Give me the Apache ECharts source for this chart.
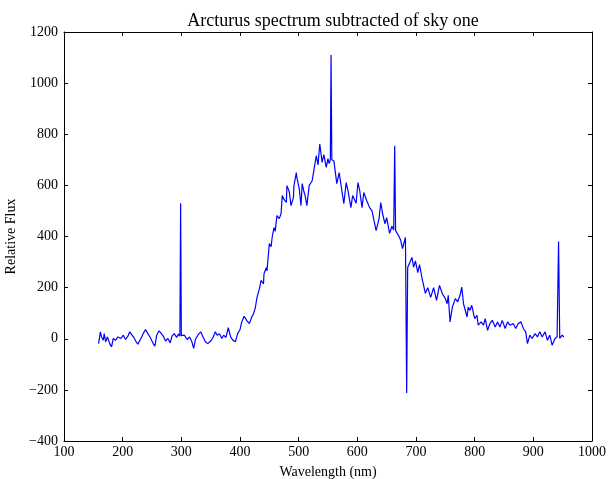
<!DOCTYPE html>
<html>
<head>
<meta charset="utf-8">
<script src="https://cdn.jsdelivr.net/npm/echarts@6/dist/echarts.min.js"></script>
<style>
  html, body { margin: 0; padding: 0; background: #fff; }
  #chart { width: 608px; height: 479px; }
</style>
</head>
<body>
<div id="chart"></div>
<script>
// wavelength (nm)
const wavelength = [
  159, 162, 164, 167, 168.5, 171, 174, 178, 181, 184, 188, 192, 197, 201, 205, 209, 212, 216, 219, 223,
  226, 231, 235, 239, 243, 247, 252, 255, 258, 262, 266, 270, 273, 277, 281, 284, 288, 292, 295, 297.5,
  298.8, 300, 301, 305, 310, 314, 318, 321, 324, 328, 333, 337, 341, 345, 350, 354, 358, 361, 365, 369,
  372, 376, 380, 384, 388, 392, 396, 400, 403, 407, 412, 416, 420, 423, 426, 429, 433, 436, 440, 441,
  445, 446, 450, 453, 455, 458, 460, 463, 467, 470, 472, 475, 479, 480, 484, 487, 491, 492, 496, 497,
  501, 504, 506, 509, 511, 514, 518, 523, 526, 530, 533, 536, 540, 543, 547, 550, 552, 554, 555.2, 556.5,
  560, 565, 569, 572, 577, 581, 584, 589, 592, 598, 601, 604, 608, 611, 616, 621, 625, 628, 632, 637,
  640, 643, 647, 650, 655, 659, 662, 663.7, 665.2, 667, 671, 674, 677, 682, 684.1, 685.8, 688, 693, 696, 699,
  703, 706, 711, 716, 720, 725, 730, 735, 740, 745, 750, 753, 755, 758, 762, 767, 771, 775, 778, 781,
  787, 789, 792, 795, 800, 804, 806, 811, 815, 818, 822, 826, 830, 835, 839, 843, 847, 852, 856, 860,
  866, 870, 874, 879, 883, 887, 890, 894, 898, 903, 907, 911, 915, 920, 924, 928, 932, 937, 940.5, 943,
  945, 949, 952
];

// relative flux at each wavelength
const flux = [
  -19, 27, 7, -6, 20, -12, 7, -19, -32, 1, -6, 7, 1, 14, -3, 10, 27, 14, 5, -12,
  -21, 1, 20, 36, 20, 5, -19, -29, 14, 31, 20, 7, -9, 1, -16, 10, 20, 5, 18, 10,
  530, 12, 10, 14, -3, 7, -12, -38, -3, 14, 27, 7, -12, -19, -9, 5, 27, 14, 20, 1,
  14, 5, 43, 7, -6, -12, 20, 36, 66, 88, 70, 59, 85, 98, 120, 162, 195, 228, 215, 255,
  279, 265, 372, 360, 400, 435, 420, 482, 470, 490, 560, 545, 533, 599, 575, 521, 552, 600, 650, 630,
  587, 521, 607, 575, 560, 521, 600, 618, 660, 716, 680, 762, 690, 720, 670, 705, 685, 700, 1110, 700,
  696, 607, 650, 657, 528, 611, 580, 513, 560, 530, 611, 580, 513, 572, 540, 513, 500, 494, 423, 470,
  533, 490, 450, 474, 412, 440, 425, 755, 423, 423, 400, 385, 353, 396, -212, 279, 279, 318, 280, 305,
  259, 290, 228, 178, 200, 162, 200, 150, 209, 176, 157, 137, 170, 66, 124, 157, 144, 170, 202, 137,
  85, 124, 111, 131, 79, 92, 53, 66, 53, 79, 33, 59, 72, 46, 66, 46, 72, 40, 66, 53,
  59, 40, 59, 66, 40, 27, -19, 14, 1, 20, 7, 27, 7, 27, -6, 14, -25, 1, 7, 380,
  1, 14, 7
];

const xTicks = { min: 100, max: 1000, interval: 100 };
const yTicks = { min: -400, max: 1200, interval: 200 };

const FONT = "'Liberation Serif', 'DejaVu Serif', serif";

function plainNumber(v) {
  return String(v).replace('-', '\u2212');
}

// unlabelled top / right axes, so the frame gets inward ticks on all sides
function frameAxis(base, position) {
  return {
    type: 'value',
    position,
    min: base.min,
    max: base.max,
    interval: base.interval,
    axisLine: { show: true, onZero: false, lineStyle: { color: '#000', width: 1 } },
    axisTick: { show: true, inside: true, length: 4, lineStyle: { color: '#000' } },
    axisLabel: { show: false },
    splitLine: { show: false }
  };
}

const chart = echarts.init(document.getElementById('chart'), null, { renderer: 'canvas' });

chart.setOption({
  animation: false,
  backgroundColor: '#fff',
  textStyle: { fontFamily: FONT },
  title: {
    text: 'Arcturus spectrum subtracted of sky one',
    left: 328,
    top: 7,
    textAlign: 'center',
    textStyle: { fontFamily: FONT, fontSize: 18, fontWeight: 'normal', color: '#000' }
  },
  grid: { left: 64, right: 16, top: 32, bottom: 38, containLabel: false, outerBoundsMode: 'none' },
  xAxis: [
    {
      type: 'value',
      position: 'bottom',
      min: xTicks.min,
      max: xTicks.max,
      interval: xTicks.interval,
      name: 'Wavelength (nm)',
      nameLocation: 'middle',
      nameGap: 24,
      nameTextStyle: { fontFamily: FONT, fontSize: 14, color: '#000' },
      axisLine: { show: true, onZero: false, lineStyle: { color: '#000', width: 1 } },
      axisTick: { show: true, inside: true, length: 4, lineStyle: { color: '#000' } },
      axisLabel: { color: '#000', fontFamily: FONT, fontSize: 14, margin: 4, formatter: plainNumber },
      splitLine: { show: false }
    },
    frameAxis(xTicks, 'top')
  ],
  yAxis: [
    {
      type: 'value',
      position: 'left',
      min: yTicks.min,
      max: yTicks.max,
      interval: yTicks.interval,
      name: 'Relative Flux',
      nameLocation: 'middle',
      nameGap: 40,
      nameRotate: 90,
      nameTextStyle: { fontFamily: FONT, fontSize: 14, color: '#000' },
      axisLine: { show: true, onZero: false, lineStyle: { color: '#000', width: 1 } },
      axisTick: { show: true, inside: true, length: 4, lineStyle: { color: '#000' } },
      axisLabel: { color: '#000', fontFamily: FONT, fontSize: 14, margin: 6, formatter: plainNumber },
      splitLine: { show: false }
    },
    frameAxis(yTicks, 'right')
  ],
  series: [
    {
      type: 'line',
      data: wavelength.map((w, i) => [w, flux[i]]),
      showSymbol: false,
      symbol: 'none',
      lineStyle: { color: '#0000ff', width: 1.2 },
      itemStyle: { color: '#0000ff' }
    }
  ]
});
</script>
</body>
</html>
